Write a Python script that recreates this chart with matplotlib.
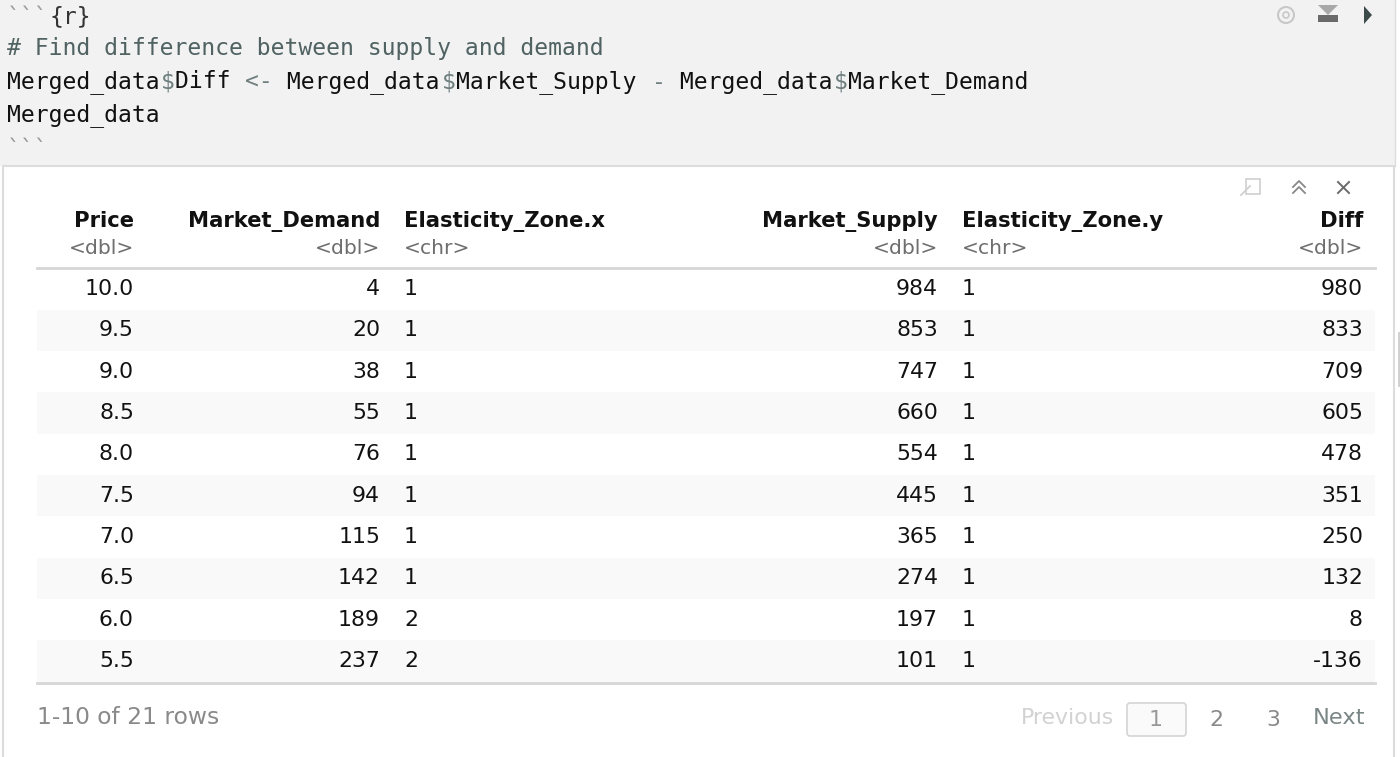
import matplotlib
matplotlib.use("Agg")
import matplotlib.pyplot as plt
from matplotlib.patches import Rectangle, FancyBboxPatch, Polygon, Circle

# ---- data ----
columns = ["Price", "Market_Demand", "Elasticity_Zone.x", "Market_Supply", "Elasticity_Zone.y", "Diff"]
col_types = ["<dbl>", "<dbl>", "<chr>", "<dbl>", "<chr>", "<dbl>"]
price = ["10.0", "9.5", "9.0", "8.5", "8.0", "7.5", "7.0", "6.5", "6.0", "5.5"]
market_demand = [4, 20, 38, 55, 76, 94, 115, 142, 189, 237]
zone_x = ["1", "1", "1", "1", "1", "1", "1", "1", "2", "2"]
market_supply = [984, 853, 747, 660, 554, 445, 365, 274, 197, 101]
zone_y = ["1", "1", "1", "1", "1", "1", "1", "1", "1", "1"]
diff = [980, 833, 709, 605, 478, 351, 250, 132, 8, -136]
footer_text = "1-10 of 21 rows"
pages = ["1", "2", "3"]

code_lines = [
    [("```", "#9a9a9a"), ("{r}", "#333333")],
    [("# Find difference between supply and demand", "#506262")],
    [("Merged_data", "#111111"), ("$", "#6f7f7f"), ("Diff ", "#111111"), ("<-", "#6f7f7f"),
     (" Merged_data", "#111111"), ("$", "#6f7f7f"), ("Market_Supply ", "#111111"), ("-", "#6f7f7f"),
     (" Merged_data", "#111111"), ("$", "#6f7f7f"), ("Market_Demand", "#111111")],
    [("Merged_data", "#111111")],
    [("```", "#9a9a9a")],
]

W, H = 1400, 757
fig = plt.figure(figsize=(W / 100, H / 100), dpi=100)
ax = fig.add_axes([0, 0, 1, 1])
ax.set_xlim(0, W)
ax.set_ylim(H, 0)
ax.axis("off")

# code chunk background
ax.add_patch(Rectangle((0, 0), 1395, 166, facecolor="#f2f2f2", edgecolor="none"))
ax.plot([1395, 1395], [0, 166], color="#dddddd", lw=1)
# output panel
ax.add_patch(Rectangle((3, 166), 1391, 600, facecolor="white", edgecolor="#dcdcdc", lw=1.5))
# scrollbar hint at far right
ax.plot([1398.5, 1398.5], [333, 385], color="#cfcfcf", lw=2)

# code text
mono = "DejaVu Sans Mono"
code_fs = 16.6
char_w = 14.02
code_y = [17, 49, 82, 115, 150]
for line, y in zip(code_lines, code_y):
    x = 7
    for seg, c in line:
        ax.text(x, y, seg, fontsize=code_fs, family=mono, color=c, ha="left", va="center")
        x += len(seg) * char_w

# chunk icons (gear, run-above, play)
ax.add_patch(Circle((1286, 15), 8, facecolor="none", edgecolor="#c8c8c8", lw=1.5))
ax.add_patch(Circle((1286, 15), 3, facecolor="none", edgecolor="#c8c8c8", lw=1.2))
ax.add_patch(Polygon([[1318, 5], [1338, 5], [1328, 15]], closed=True, facecolor="#a8a8a8", edgecolor="none"))
ax.add_patch(Rectangle((1318, 15), 20, 7, facecolor="#6a6a6a", edgecolor="none"))
ax.add_patch(Polygon([[1364, 6], [1364, 24], [1372, 15]], closed=True, facecolor="#3c4a4a", edgecolor="none"))

# table panel icons
ax.add_patch(Rectangle((1246, 179), 14, 15, facecolor="none", edgecolor="#d0d0d0", lw=1.2))
ax.plot([1241, 1250], [195, 186], color="#d0d0d0", lw=1.3)
ax.plot([1293, 1299, 1305], [187, 181, 187], color="#888888", lw=1.3)
ax.plot([1293, 1299, 1305], [193, 187, 193], color="#888888", lw=1.3)
ax.plot([1338, 1349], [182, 193], color="#6a6a6a", lw=1.4)
ax.plot([1338, 1349], [193, 182], color="#6a6a6a", lw=1.4)

# table layout
sans = "DejaVu Sans"
col_x = [134, 380, 404, 938, 962, 1363]
col_ha = ["right", "right", "left", "right", "left", "right"]
head_y, type_y = 221, 248
row_y0, row_h = 289, 41.35
x_left, x_right = 37, 1375

for name, t, x, ha in zip(columns, col_types, col_x, col_ha):
    ax.text(x, head_y, name, fontsize=15.2, family=sans, weight="bold", color="#111111",
            ha=ha, va="center")
    ax.text(x, type_y, t, fontsize=14.6, family=sans, color="#6e6e6e", ha=ha, va="center")

ax.plot([x_left, x_right], [268, 268], color="#d6d6d6", lw=2)

rows = list(zip(price, market_demand, zone_x, market_supply, zone_y, diff))
for i, r in enumerate(rows):
    y = row_y0 + i * row_h
    if i % 2 == 1:
        ax.add_patch(Rectangle((x_left, y - row_h / 2), x_right - x_left, row_h,
                               facecolor="#f9f9f9", edgecolor="none"))
    for val, x, ha in zip(r, col_x, col_ha):
        ax.text(x, y, str(val), fontsize=15.8, family=sans, color="#111111",
                ha=ha, va="center")

ax.plot([x_left, x_right], [683, 683], color="#d6d6d6", lw=2)

# footer
ax.text(37, 718, footer_text, fontsize=16.8, family=sans, color="#8a8a8a", ha="left", va="center")
ax.text(1114, 718, "Previous", fontsize=15.8, family=sans, color="#d2d2d2", ha="right", va="center")
ax.add_patch(FancyBboxPatch((1127, 703), 59, 33, boxstyle="round,pad=0,rounding_size=3",
                            facecolor="#fafafa", edgecolor="#d4d4d4", lw=1.2))
page_x = [1156, 1216, 1273]
for p, x in zip(pages, page_x):
    ax.text(x, 720, p, fontsize=15.8, family=sans, color="#888888" if p != "1" else "#999999",
            ha="center", va="center")
ax.text(1365, 718, "Next", fontsize=16.2, family=sans, color="#7a8585", ha="right", va="center")

fig.savefig("out.png", dpi=100)
